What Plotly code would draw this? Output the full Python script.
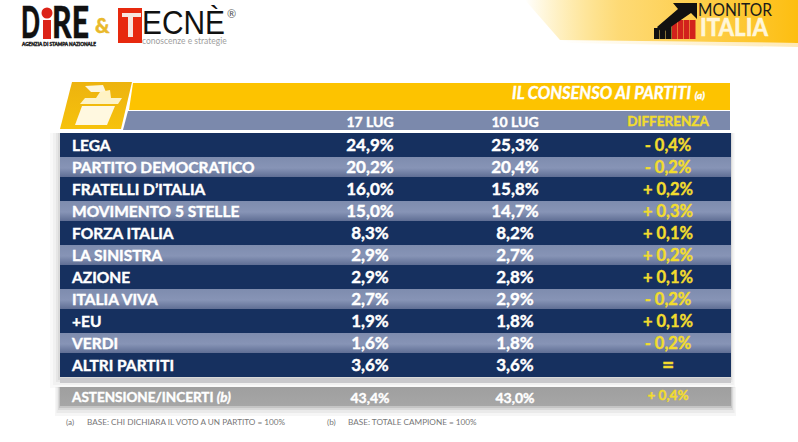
import plotly.graph_objects as go

W, H = 798, 442
FONT = 'Lato'
NAVY = '#16305f'
GOLD = '#fdc300'
YEL = '#f2dc2e'

partiti = ['LEGA', 'PARTITO DEMOCRATICO', 'FRATELLI D’ITALIA', 'MOVIMENTO 5 STELLE', 'FORZA ITALIA',
           'LA SINISTRA', 'AZIONE', 'ITALIA VIVA', '+EU', 'VERDI', 'ALTRI PARTITI']
lug17 = ['24,9%', '20,2%', '16,0%', '15,0%', '8,3%', '2,9%', '2,9%', '2,7%', '1,9%', '1,6%', '3,6%']
lug10 = ['25,3%', '20,4%', '15,8%', '14,7%', '8,2%', '2,7%', '2,8%', '2,9%', '1,8%', '1,8%', '3,6%']
diff = ['- 0,4%', '- 0,2%', '+ 0,2%', '+ 0,3%', '+ 0,1%', '+ 0,2%', '+ 0,1%', '- 0,2%', '+ 0,1%', '- 0,2%', '=']
astensione = ['ASTENSIONE/INCERTI <i>(b)</i>', '43,4%', '43,0%', '+ 0,4%']
colonne = ['17 LUG', '10 LUG', 'DIFFERENZA']

fig = go.Figure()


def poly(xs, ys, color=None, grad=None, kind='vertical'):
    tr = dict(x=xs + xs[:1], y=ys + ys[:1], mode='lines', line=dict(width=0), fill='toself',
              hoverinfo='skip', showlegend=False)
    if grad:
        tr['fillgradient'] = dict(type=kind, colorscale=grad)
        tr['fillcolor'] = 'rgba(0,0,0,0)'
    else:
        tr['fillcolor'] = color
    fig.add_trace(go.Scatter(**tr))


def rect(x0, y0, x1, y1, color=None, grad=None, kind='vertical'):
    poly([x0, x1, x1, x0], [y0, y0, y1, y1], color, grad, kind)


def text(x, y, s, size, color, anchor='middle center', weight=700, font=FONT):
    fig.add_trace(go.Scatter(x=[x], y=[y], mode='text', text=[s], textposition=anchor,
                             textfont=dict(family=font, size=size, color=color, weight=weight),
                             hoverinfo='skip', showlegend=False))


# top right gradient
poly([525, 798, 798, 560], [0, 0, 43, 40],
     grad=[[0, 'rgba(253,195,0,0)'], [0.35, 'rgba(253,205,70,0.75)'], [1, '#fdbe10']], kind='horizontal')
poly([560, 798, 798, 570], [40, 43, 47, 43],
     grad=[[0, 'rgba(253,205,70,0)'], [1, 'rgba(253,205,90,0.45)']], kind='horizontal')

# soft shadow behind the table
for d, a in [(10, 0.03), (7, 0.04), (4, 0.06), (2, 0.08)]:
    rect(60 - d, 133, 731 + d * 0.4, 378 + d, 'rgba(60,60,60,%s)' % a)
    rect(60 - d * 0.5, 387, 731 + d * 0.5, 406 + d, 'rgba(40,40,40,%s)' % (a * 1.4))

# header
poly([133, 730, 730, 129], [83, 83, 110, 110], GOLD)
poly([128, 730, 730, 123], [111, 111, 130, 130], '#7b89ac')
poly([72, 132, 121, 60], [82, 82, 129, 129], grad=[[0, '#f6c20c'], [1, '#edb30f']])

# ballot box icon
poly([85, 103, 106, 91], [86, 85, 92, 92], '#fdf6dc')
poly([100, 110, 111, 96], [92, 90, 98, 98], '#fff3c4')
poly([85, 122, 118, 80], [98, 98, 104, 104], '#fdf3c8')
poly([82, 115, 107, 75], [106, 106, 125, 125], '#fff8e0')

# party rows
row_h = 22
for i in range(len(partiti)):
    y0 = 133 + i * row_h
    if i % 2 == 0:
        rect(60, y0, 731, y0 + 24, NAVY)
    else:
        rect(60, y0 + 2, 731, y0 + 22,
             grad=[[0, '#5f6e94'], [0.45, '#8794b6'], [1, '#7e8cae']])
rect(60, 378, 731, 383, '#c9c9cc')

# astensione row
rect(60, 387, 731, 406, grad=[[0, '#a6a6a6'], [1, '#9f9f9f']])

# table text
xs = [370, 515, 668]
for s, x, size, c in zip(colonne, xs, [14, 14, 13.5], ['white', 'white', YEL]):
    text(x, 123, s, size, c)
text(512, 95, '<i>IL CONSENSO AI PARTITI <span style="font-size:10px">(a)</span></i>', 16.5, 'white',
     anchor='middle right')

for i in range(len(partiti)):
    y = 147 + i * row_h
    text(72, y, partiti[i], 15.5, 'white', anchor='middle right')
    text(xs[0], y, lug17[i], 17, 'white')
    text(xs[1], y, lug10[i], 17, 'white')
    if diff[i] == '=':
        text(xs[2], y, diff[i], 21, YEL, weight=900)
    else:
        text(xs[2], y, diff[i], 16.5, YEL)

text(72, 399, astensione[0], 13.5, 'white', anchor='middle right')
text(xs[0], 399, astensione[1], 14, 'white')
text(xs[1], 399, astensione[2], 14, 'white')
text(xs[2], 397, astensione[3], 13.5, YEL)

text(66, 423, '(a)', 8.2, '#777777', anchor='middle right', weight=400)
text(87, 423, 'BASE: CHI DICHIARA IL VOTO A UN PARTITO = 100%', 8.2, '#777777', anchor='middle right', weight=400)
text(327, 423, '(b)', 8.2, '#777777', anchor='middle right', weight=400)
text(348, 423, 'BASE: TOTALE CAMPIONE = 100%', 8.2, '#777777', anchor='middle right', weight=400)

# DIRE logo
text(21, 27, 'D', 43, '#111111', anchor='middle right', weight=900)
rect(43, 20, 51, 39, '#dc2318')
fig.add_trace(go.Scatter(x=[47], y=[13], mode='markers', marker=dict(size=11, color='#dc2318', line=dict(width=0)),
                         hoverinfo='skip', showlegend=False))
text(52, 27, 'RE', 43, '#111111', anchor='middle right', weight=900)
text(22, 45, 'AGENZIA DI STAMPA NAZIONALE', 4.7, '#222222', anchor='middle right')
text(95, 28, '&', 20, '#e9b92c', anchor='middle right', weight=900)

# TECNE logo
rect(118, 8, 142, 43, '#e7290e')
rect(122, 13, 141, 17, '#f7e7df')
rect(128, 13, 133, 37, '#f7e7df')
text(142, 26, 'ECNÈ', 33, '#111111', anchor='middle right', weight=400, font='Liberation Sans')
text(142, 42, 'conoscenze e strategie', 8.5, '#a0a0a0', anchor='middle right', weight=400)
text(227, 15, '®', 11, '#555555', anchor='middle right', weight=400)

# MONITOR ITALIA logo
for x, top, c in [(654, 28, '#111111'), (660, 26, '#111111'), (666, 24, '#111111'),
                  (672, 22, '#d2221c'), (678, 20, '#d2221c'), (684, 20, '#d2221c'), (690, 20, '#d2221c')]:
    rect(x, top, x + 5.5, 39, c)
poly([657, 678, 673, 697, 697, 691, 662], [27, 9, 3, 3, 19, 13, 33], '#111111')
text(698, 12, 'MONITOR', 16.5, '#1a1a1a', anchor='middle right', weight=400)
text(700, 30, 'ITALIA', 25, '#fff6d8', anchor='middle right', weight=900)

fig.update_xaxes(range=[0, W], visible=False, fixedrange=True)
fig.update_yaxes(range=[H, 0], visible=False, fixedrange=True)
fig.update_layout(width=W, height=H, margin=dict(l=0, r=0, t=0, b=0),
                  paper_bgcolor='white', plot_bgcolor='white', showlegend=False)

# squeeze the logo lettering to its narrow widths, thicken the bold table text
squeeze = "var w={'D':19,'RE':37,'ECNÈ':83,'MONITOR':74,'ITALIA':68};" \
          "document.querySelectorAll('text').forEach(function(t){var n=w[t.textContent];" \
          "if(n){t.setAttribute('textLength',n);t.setAttribute('lengthAdjust','spacingAndGlyphs');}" \
          "if(parseInt(t.style.fontWeight)>=700){t.style.stroke=t.style.fill;t.style.strokeWidth='0.4px';}});" \
          "document.body.style.margin='0';"
fig.write_html('out.html', config=dict(displayModeBar=False), post_script=squeeze)
